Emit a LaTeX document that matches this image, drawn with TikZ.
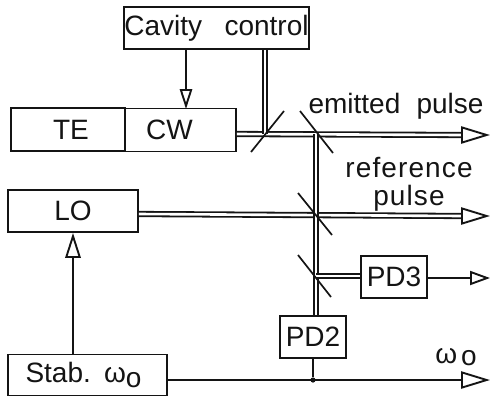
\documentclass[tikz,border=0pt]{standalone}
\usepackage{fontspec}
\setmainfont{Liberation Sans}
\usetikzlibrary{arrows.meta,positioning,calc}
\definecolor{Ink}{HTML}{141414}
\tikzset{
  unit/.style={draw=Ink,line width=0.95pt,inner sep=0pt,fill=white,font=\fontsize{14}{16}\selectfont,text=Ink},
  tag/.style={inner sep=0pt,align=center,font=\fontsize{14}{14}\selectfont,text=Ink},
  wire/.style={draw=Ink,line width=0.95pt},
  beam/.style={draw=Ink,line width=0.9pt,double=white,double distance=1.3pt},
  mirror/.style={draw=Ink,line width=0.85pt},
  bigtip/.style={wire,-{Triangle[open,fill=white,length=14.5pt,width=8.6pt]}},
  smalltip/.style={wire,-{Triangle[open,fill=white,length=10pt,width=7pt]}},
  ctrltip/.style={wire,-{Triangle[open,fill=white,length=#1pt,width=#1pt*0.62]}},
  joint/.style={circle,fill=Ink,inner sep=0pt,minimum size=2.6pt}
}
\begin{document}
\begin{tikzpicture}[x=0.5pt,y=-0.5pt]
\useasboundingbox (0,0) rectangle (491,402);
% splitters and free beam ends
\coordinate (sa) at (265,134);
\coordinate (sb) at (316,134);
\coordinate (sc) at (316,214);
\coordinate (sd) at (316,276);
\coordinate (ea) at (461,135);
\coordinate (eb) at (461,216);
\coordinate (ta) at (490,135);
\coordinate (tb) at (490,216);
\coordinate (tc) at (490,278);
\coordinate (td) at (490,380);
\coordinate (ca) at (186,49);
\coordinate (cb) at (186,109);
% boxes
\node[unit,minimum width=92.5pt,minimum height=21pt] (cavity) at (216.5,28) {Cavity\hspace{0.8em}control};
\node[unit,minimum width=57pt,minimum height=21.5pt] (te) at (68,129.5) {\hspace*{3pt}TE};
\node[unit,minimum width=55.5pt,minimum height=21.5pt] (cw) at (180.5,130) {CW\hspace*{11pt}};
\node[unit,minimum width=65pt,minimum height=21pt] (lo) at (73,211) {LO};
\node[unit,minimum width=79.5pt,minimum height=20.5pt] (stab) at (87.5,375) {\hspace*{-4pt}Stab.\hspace{0.1em} ω\raisebox{-2.5pt}{o}};
\node[unit,minimum width=33pt,minimum height=21pt] (pdb) at (313,337) {PD2};
\node[unit,minimum width=33pt,minimum height=21pt] (pdc) at (394,277) {PD3};
% labels
\node[tag] (emitted) at (396,106) {emitted\hspace{0.3em} pulse};
\node[tag,font=\fontsize{14}{14}\selectfont\addfontfeature{LetterSpace=4}] (reference) at (409,184) {reference\\pulse};
\node[tag] (omega) at (456,357) {ω\hspace{2pt}\raisebox{-1pt}{o}};
% beams
\draw[beam] (cw.east |- sa) -- (ea);
\draw[beam] (cavity.south -| sa) -- (sa);
\draw[beam] (lo.east |- sc) -- (eb);
\draw[beam] (sb) -- (pdb.north -| sb);
\draw[beam] (sd) -- (pdc.west |- sd);
% mirrors
\foreach \s/\ax/\ay/\bx/\by in {sa/-14/18/19/-23,sb/-16/-23/17/19,sc/-18/-21/16/21,sd/-18/-21/15/21} {
  \draw[mirror] ($(\s)+(\ax,\ay)$) -- ($(\s)+(\bx,\by)$);
}
% arrows
\draw[bigtip] (ea) -- (ta);
\draw[bigtip] (eb) -- (tb);
\draw[smalltip] (pdc.east |- tc) -- (tc);
\draw[bigtip] (stab.east |- td) -- (td);
\draw[ctrltip=10] (ca) -- (cb);
\draw[ctrltip=12.5] (stab.north -| lo) -- (lo.south);
\node[joint] (dot) at (pdb.south |- td) {};
\draw[wire] (pdb.south) -- (dot);
\end{tikzpicture}
\end{document}
